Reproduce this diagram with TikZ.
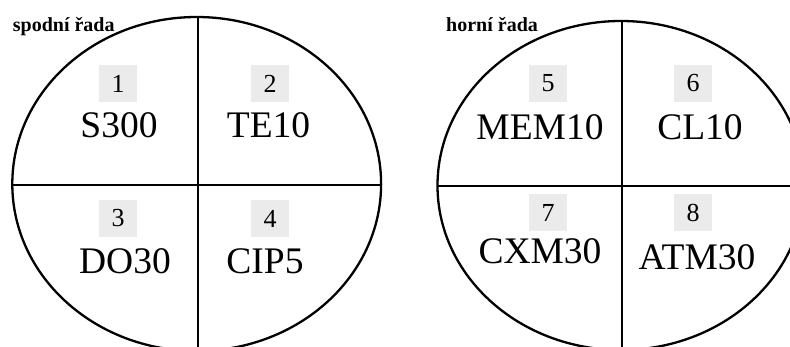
\documentclass[tikz,border=0pt]{standalone}
\usepackage{fontspec}
\setmainfont{Liberation Serif}
\begin{document}
\begin{tikzpicture}[x=1pt,y=-1pt,
  rim/.style={line width=2.3pt},
  divider/.style={line width=1.2pt},
  numbox/.style={fill=black!8, minimum width=38pt, minimum height=37pt, inner sep=0pt,
    font=\fontsize{26}{28}\selectfont},
  drug/.style={anchor=base, inner sep=0pt, font=\fontsize{37.5}{40}\selectfont},
  title/.style={anchor=base west, inner sep=0pt, font=\fontsize{20}{22}\selectfont\bfseries}]
\useasboundingbox (0,0) rectangle (790,347);
\clip (0,0) rectangle (790,347);
% left ellipse
\draw[rim] (196.7,184) ellipse [x radius=184.4, y radius=167];
\coordinate (lt) at (198,17);
\coordinate (lb) at (198,360);
\coordinate (ll) at (12.3,185);
\coordinate (lr) at (381.1,185);
\draw[divider] (lt) -- (lb);
\draw[divider] (ll) -- (lr);
% right ellipse
\draw[rim] (621,185.5) ellipse [x radius=183.5, y radius=164.5];
\coordinate (rt) at (622,21);
\coordinate (rb) at (622,360);
\coordinate (rl) at (437.5,186);
\coordinate (rr) at (804.5,186);
\draw[divider] (rt) -- (rb);
\draw[divider] (rl) -- (rr);
% titles
\node[title] (tl) at (12.7,32) {spodní řada};
\node[title] (tr) at (446,32) {horní řada};
% numbers
\node[numbox] (n1) at (118,83.5) {1};
\node[numbox] (n2) at (270,83.5) {2};
\node[numbox] (n3) at (118,218.5) {3};
\node[numbox] (n4) at (270,218.5) {4};
\node[numbox] (n5) at (548,83.5) {5};
\node[numbox] (n6) at (693,83.5) {6};
\node[numbox] (n7) at (548,213) {7};
\node[numbox] (n8) at (693,213) {8};
% drug names
\node[drug] (d1) at (119,138) {S300};
\node[drug] (d2) at (268.5,138) {TE10};
\node[drug] (d3) at (125,274) {DO30};
\node[drug] (d4) at (265,274) {CIP5};
\node[drug] (d5) at (540,140) {MEM10};
\node[drug] (d6) at (700,140) {CL10};
\node[drug] (d7) at (540,264) {CXM30};
\node[drug] (d8) at (697,270) {ATM30};
\end{tikzpicture}
\end{document}
